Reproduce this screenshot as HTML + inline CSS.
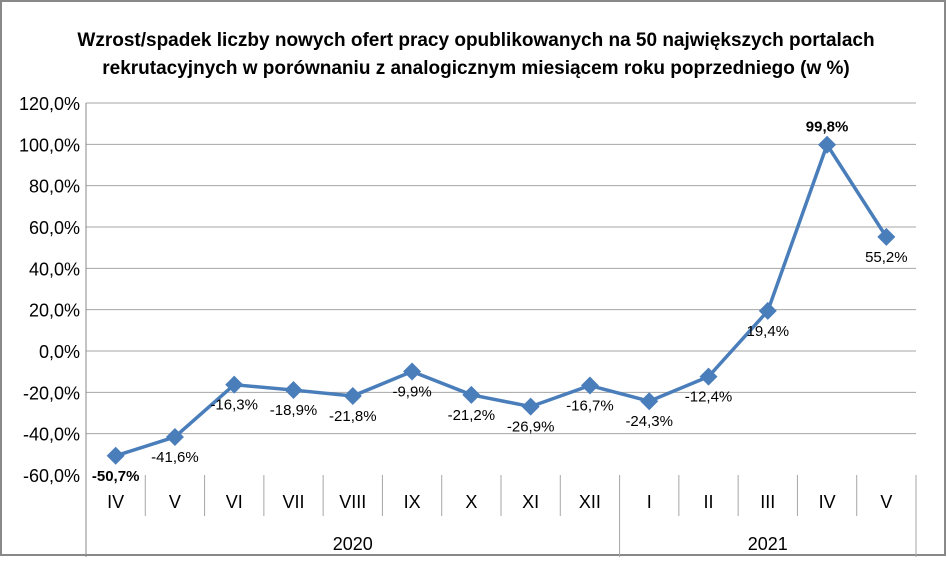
<!DOCTYPE html>
<html><head><meta charset="utf-8"><style>
body{margin:0;background:#fff;}
svg text{font-family:"Liberation Sans",sans-serif;}
</style></head><body>
<svg id="chart" width="947" height="557" viewBox="0 0 947 557" xmlns="http://www.w3.org/2000/svg">
<rect x="1" y="1" width="944" height="554" fill="#fff" stroke="#888" stroke-width="2"/>
<text x="476" y="46" text-anchor="middle" font-size="19" font-weight="bold" fill="#000">Wzrost/spadek liczby nowych ofert pracy opublikowanych na 50 największych portalach</text>
<text x="476" y="74" text-anchor="middle" font-size="19" font-weight="bold" fill="#000">rekrutacyjnych w porównaniu z analogicznym miesiącem roku poprzedniego (w %)</text>
<g id="grid"></g><g id="axes"></g><g id="series"></g>
</svg>
<script>
const categories=["IV","V","VI","VII","VIII","IX","X","XI","XII","I","II","III","IV","V"];
const values=[-50.7,-41.6,-16.3,-18.9,-21.8,-9.9,-21.2,-26.9,-16.7,-24.3,-12.4,19.4,99.8,55.2];
const yTicks=[-60,-40,-20,0,20,40,60,80,100,120];
const years=["2020","2021"];
const yearCounts=[9,5];
const boldIdx=[0,12];
const NS="http://www.w3.org/2000/svg";
const L=86,R=916,T=103,B=475;
const x=i=>L+(R-L)/categories.length*(i+0.5);
const y=v=>B-(v+60)/180*(B-T);
function mk(tag,attrs,parent,txt){const e=document.createElementNS(NS,tag);for(const k in attrs)e.setAttribute(k,attrs[k]);if(txt!==undefined)e.textContent=txt;parent.appendChild(e);return e;}
const grid=document.getElementById('grid'),axes=document.getElementById('axes'),ser=document.getElementById('series');
yTicks.forEach(t=>{
 if(t>-60){const g=mk('line',{x1:L,x2:R,y1:y(t),y2:y(t),stroke:'#a6a6a6','stroke-width':1},grid);
 
 }
 const tl=mk('text',{x:L-6,y:y(t)+7,'text-anchor':'end','font-size':18,fill:'#000'},axes,t.toFixed(1).replace('.',',')+'%');
 
 
});
const ya=mk('line',{x1:L,x2:L,y1:T,y2:557,stroke:'#888','stroke-width':1},axes);


const step=(R-L)/categories.length;
categories.forEach((c,i)=>{
 if(i>0){const s=mk('line',{x1:L+step*i,x2:L+step*i,y1:B,y2:i===yearCounts[0]?557:516,stroke:'#a6a6a6','stroke-width':1},axes);
 
 }
 const t=mk('text',{x:x(i),y:508,'text-anchor':'middle','font-size':18,fill:'#000'},axes,c);
 
 
});
const rs=mk('line',{x1:R,x2:R,y1:B,y2:557,stroke:'#a6a6a6','stroke-width':1},axes);


let start=0;
years.forEach((yr,j)=>{
 const cx=L+step*(start+yearCounts[j]/2);
 const t=mk('text',{x:cx,y:550,'text-anchor':'middle','font-size':18,fill:'#000'},axes,yr);
 
 
 start+=yearCounts[j];
});
const pts=values.map((v,i)=>x(i)+','+y(v)).join(' ');
const pl=mk('polyline',{points:pts,fill:'none',stroke:'#4a7ebb','stroke-width':3.5,'stroke-linejoin':'round'},ser);


values.forEach((v,i)=>{
 const cx=x(i),cy=y(v),d=9;
 const m=mk('polygon',{points:`${cx},${cy-d} ${cx+d},${cy} ${cx},${cy+d} ${cx-d},${cy}`,fill:'#4a7ebb'},ser);
 
 
 const bold=boldIdx.includes(i);
 const above=i===12;
 const ly=above?cy-13:cy+25;
 const lbl=mk('text',{x:cx,y:ly,'text-anchor':'middle','font-size':15,'font-weight':bold?'bold':'normal',fill:'#000'},ser,v.toFixed(1).replace('.',',')+'%');
 
 
});
</script>
</body></html>
